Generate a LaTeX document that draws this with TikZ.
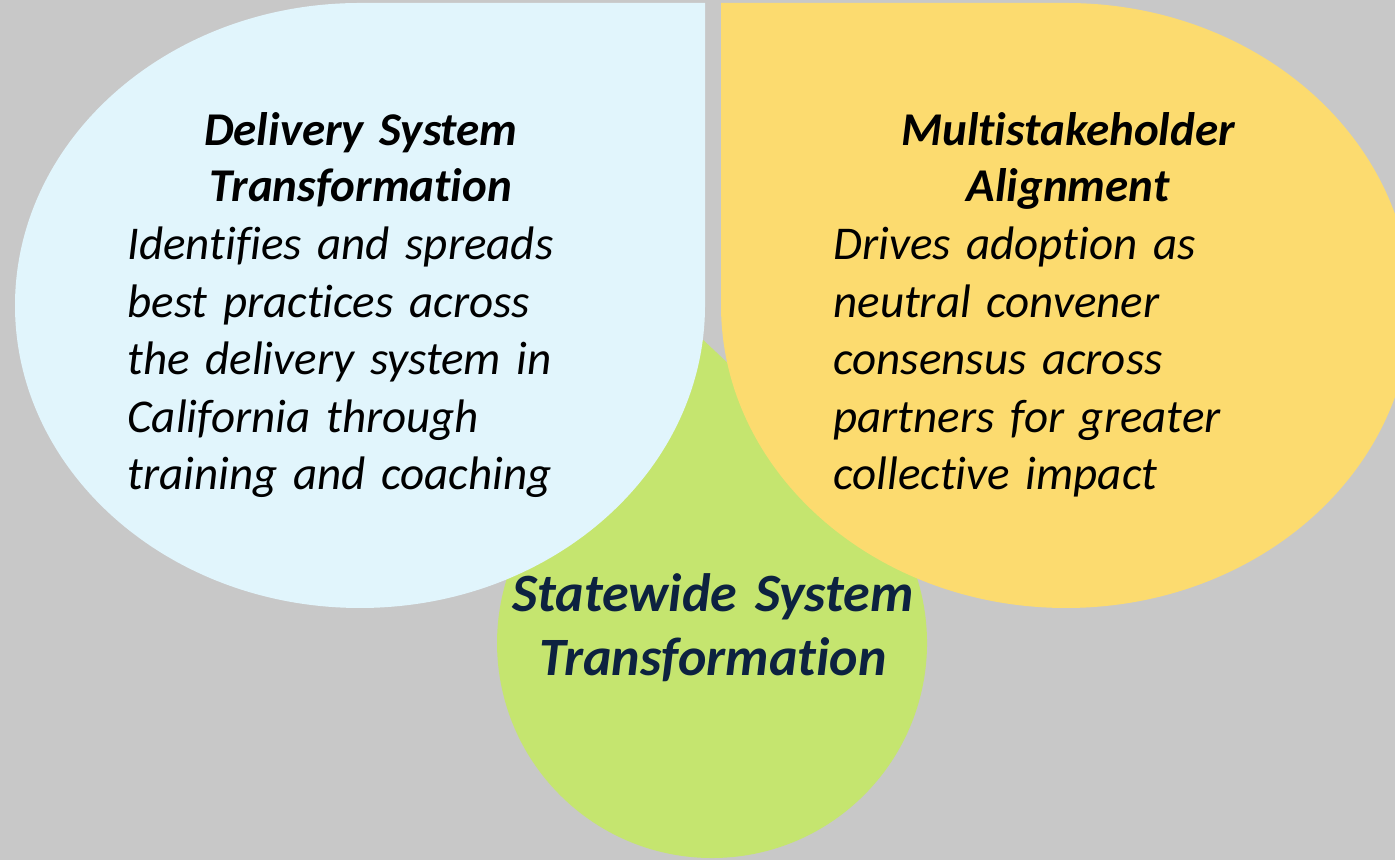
\documentclass[tikz,border=0pt]{standalone}
\usepackage{fontspec}
\setmainfont[Ligatures={NoCommon}]{Carlito}
\definecolor{bggrey}{HTML}{C8C8C8}
\definecolor{lightblue}{HTML}{E1F5FC}
\definecolor{softyellow}{HTML}{FCDB6F}
\definecolor{limegreen}{HTML}{C5E56F}
\definecolor{navytext}{HTML}{0D2240}
\tikzset{
  titletext/.style={inner sep=0pt, text width=260pt, align=center, anchor=base,
    font=\fontsize{23.5}{28}\selectfont\bfseries\itshape},
  bodytext/.style={inner sep=0pt, text width=260pt, align=left, anchor=base west,
    font=\fontsize{23.5}{28.75}\selectfont\itshape},
  greentext/.style={inner sep=0pt, text width=260pt, align=center, anchor=base,
    text=navytext, font=\fontsize{27}{32}\selectfont\bfseries\itshape}
}
\begin{document}
\begin{tikzpicture}[x=0.5pt,y=0.5pt]
\useasboundingbox (0,0) rectangle (1395,860);
\fill[bggrey] (0,0) rectangle (1395,860);
\clip (0,0) rectangle (1395,860);
% green teardrop (point up, hidden behind the blue shape)
\fill[limegreen] (560,369) arc[start angle=135, end angle=405, radius=107.5pt]
  -- (700,523) -- cycle;
% blue teardrop (square top-right corner)
\fill[lightblue] (360,857) arc[start angle=90, end angle=360, x radius=172.5pt, y radius=151.25pt]
  -- (705,857) -- cycle;
% yellow teardrop (square top-left corner)
\fill[softyellow] (721,554.5) arc[start angle=180, end angle=450, x radius=172.5pt, y radius=151.25pt]
  -- (721,857) -- cycle;
% texts
\node[titletext] (bluetitle) at (361,714) {Delivery System\\Transformation};
\node[bodytext] (bluebody) at (127,600) {Identifies and spreads\\best practices across\\the delivery system in\\California through\\training and coaching};
\node[titletext] (yellowtitle) at (1068,714) {Multistakeholder\\Alignment};
\node[bodytext] (yellowbody) at (833,600) {Drives adoption as\\neutral convener\\consensus across\\partners for greater\\collective impact};
\node[greentext] (greentitle) at (713,248) {Statewide System\\Transformation};
\end{tikzpicture}
\end{document}
